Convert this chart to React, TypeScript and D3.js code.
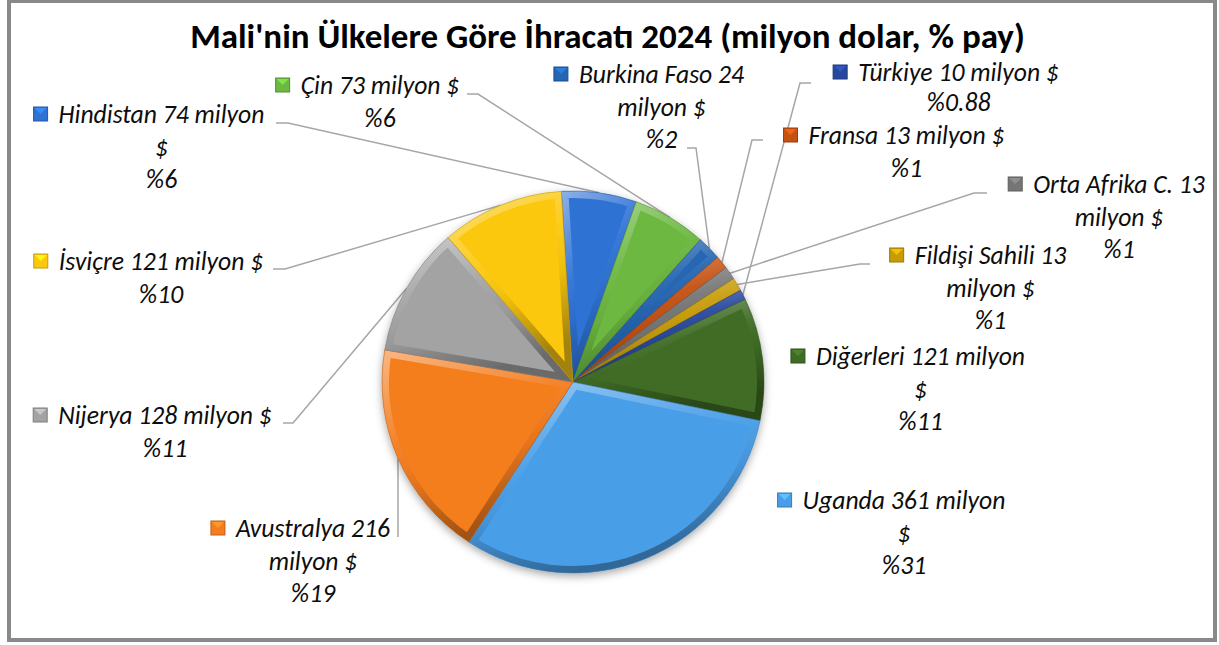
import React, { useEffect, useRef } from "react";
import * as d3 from "d3";

// slices in clockwise order, starting just left of 12 o'clock
const countries = ["Hindistan", "Çin", "Burkina Faso", "Fransa", "Orta Afrika C.", "Fildişi Sahili", "Türkiye", "Diğerleri", "Uganda", "Avustralya", "Nijerya", "İsviçre"];
const values = [74, 73, 24, 13, 13, 13, 10, 121, 361, 216, 128, 121];
const shares = ["%6", "%6", "%2", "%1", "%1", "%1", "%0.88", "%11", "%31", "%19", "%11", "%10"];
const colors = ["#2F72D4", "#6CB840", "#2566B2", "#C55112", "#767676", "#C79C08", "#28489E", "#3F6C25", "#4A9EE8", "#F47D1F", "#A3A3A3", "#FBC810"];
// how each label wraps: 0 = "name v milyon $" / share, 1 = "name v milyon" / "$" / share, 2 = "name v" / "milyon $" / share
const wraps = [1, 0, 2, 0, 2, 2, 0, 1, 1, 2, 0, 0];

const title = "Mali'nin Ülkelere Göre İhracatı 2024 (milyon dolar, % pay)";

// label layout (block centre, first baseline, line gap, leader start + elbow)
const labelPos: { cx: number; y: number; gap?: number; lead: number[][] | null }[] = [
  { cx: 161.5, y: 123, lead: [[276, 123], [288, 123]] },
  { cx: 380, y: 94, lead: [[467, 94], [478, 94]] },
  { cx: 661.5, y: 83, lead: [[687, 148], [696, 148]] },
  { cx: 906.5, y: 144, lead: [[763, 140], [752, 140]] },
  { cx: 1119, y: 193, lead: [[987, 193], [974, 193]] },
  { cx: 990.5, y: 264, lead: [[870, 264], [860, 264]] },
  { cx: 958.5, y: 81, gap: 30, lead: [[811, 83], [800, 83]] },
  { cx: 920.5, y: 365, lead: null },
  { cx: 904, y: 509, lead: null },
  { cx: 313, y: 537, lead: [[398, 537], [398, 537]] },
  { cx: 165, y: 424, lead: [[283, 423], [293, 423]] },
  { cx: 161, y: 270, lead: [[273, 269], [285, 269]] },
];

const W = 1219, H = 645;
const cx = 573, cy = 382, R = 191;
const firstAngle = (-3.5 * Math.PI) / 180;
const FONT = "Carlito, Calibri, 'Open Sans', sans-serif";
const TITLE_W = 835; // width of the title in the original
const LABEL_W = 206; // width of "Hindistan 74 milyon" (a touch under the original)

function linesFor(i: number): string[] {
  const n = countries[i], v = values[i];
  if (wraps[i] === 1) return [`${n} ${v} milyon`, "$", shares[i]];
  if (wraps[i] === 2) return [`${n} ${v}`, "milyon $", shares[i]];
  return [`${n} ${v} milyon $`, shares[i]];
}

export default function App() {
  const ref = useRef<SVGSVGElement>(null);

  useEffect(() => {
    const svg = d3.select(ref.current);
    svg.selectAll("*").remove();

    const defs = svg.append("defs");
    const shadow = defs.append("filter").attr("id", "pieShadow").attr("x", "-20%").attr("y", "-20%").attr("width", "140%").attr("height", "140%");
    shadow.append("feDropShadow").attr("dx", 0).attr("dy", 3).attr("stdDeviation", 4).attr("flood-color", "#000").attr("flood-opacity", 0.35);

    const bevel = defs.append("linearGradient").attr("id", "bevel").attr("x1", 0).attr("y1", 0).attr("x2", 0.35).attr("y2", 1);
    bevel.append("stop").attr("offset", "0%").attr("stop-color", "#fff").attr("stop-opacity", 0.45);
    bevel.append("stop").attr("offset", "45%").attr("stop-color", "#fff").attr("stop-opacity", 0.05);
    bevel.append("stop").attr("offset", "65%").attr("stop-color", "#000").attr("stop-opacity", 0.05);
    bevel.append("stop").attr("offset", "100%").attr("stop-color", "#000").attr("stop-opacity", 0.35);

    // frame
    svg.append("rect").attr("x", 9).attr("y", 1).attr("width", 1206).attr("height", 639)
      .attr("fill", "#fff").attr("stroke", "#898989").attr("stroke-width", 4);

    // title, sized to the original width with whatever font is present
    const tt = svg.append("text").attr("x", 607.5).attr("y", 48).attr("text-anchor", "middle")
      .attr("font-family", FONT).attr("font-weight", "bold").attr("font-size", 28).attr("fill", "#000")
      .text(title);
    const tw = (tt.node() as SVGTextElement).getComputedTextLength();
    if (tw > 0) tt.attr("font-size", (28 * TITLE_W) / tw);

    const pie = d3.pie<number>().sort(null).startAngle(firstAngle).endAngle(firstAngle + 2 * Math.PI);
    const arcs = pie(values);
    const arc = d3.arc<d3.PieArcDatum<number>>().innerRadius(0).outerRadius(R);
    const rim = d3.arc<d3.PieArcDatum<number>>().innerRadius(R).outerRadius(R);

    // leader lines
    const leaders = svg.append("g").attr("fill", "none").attr("stroke", "#A6A6A6").attr("stroke-width", 1.5);
    arcs.forEach((d, i) => {
      const p = labelPos[i];
      if (!p.lead) return;
      const [ex, ey] = rim.centroid(d);
      leaders.append("path").attr("d", d3.line()([p.lead[0] as [number, number], p.lead[1] as [number, number], [cx + ex, cy + ey]]));
    });

    const g = svg.append("g").attr("transform", `translate(${cx},${cy})`).attr("filter", "url(#pieShadow)");
    arcs.forEach((d, i) => {
      const c = colors[i];
      defs.append("clipPath").attr("id", `clip${i}`).append("path").attr("d", arc(d));
      const s = g.append("g");
      s.append("path").attr("d", arc(d)).attr("fill", c);
      s.append("path").attr("d", arc(d)).attr("clip-path", `url(#clip${i})`)
        .attr("fill", "none").attr("stroke", "url(#bevel)").attr("stroke-width", 14).attr("stroke-linejoin", "round");
      s.append("path").attr("d", arc(d)).attr("fill", "none")
        .attr("stroke", d3.color(c)!.darker(0.8).formatHex()).attr("stroke-width", 0.8).attr("stroke-opacity", 0.7);
    });

    // labels
    const lg = svg.append("g").attr("font-family", FONT).attr("font-style", "italic").attr("font-size", 22).attr("fill", "#0D0D0D");
    const probe = lg.append("text").text(`${countries[0]} ${values[0]} milyon`);
    const pw = (probe.node() as SVGTextElement).getComputedTextLength();
    probe.remove();
    const fs = pw > 0 ? (22 * LABEL_W) / pw : 22;
    lg.attr("font-size", fs);

    arcs.forEach((d, i) => {
      const p = labelPos[i];
      const lines = linesFor(i);
      const gap = p.gap ?? 32.5;
      let firstLeft = p.cx;
      lines.forEach((t, k) => {
        const tx = lg.append("text").attr("x", p.cx).attr("y", p.y + k * gap).attr("text-anchor", "middle").text(t);
        if (k === 0) {
          const w = (tx.node() as SVGTextElement).getComputedTextLength();
          firstLeft = p.cx - w / 2;
        }
      });
      const c = d3.color(colors[i])!;
      const kx = firstLeft - 25, ky = p.y - 16;
      lg.append("rect").attr("x", kx).attr("y", ky).attr("width", 14).attr("height", 14)
        .attr("fill", c.formatHex()).attr("stroke", c.darker(0.7).formatHex()).attr("stroke-width", 1);
      lg.append("path").attr("d", `M${kx + 1},${ky + 1}L${kx + 13},${ky + 1}L${kx + 7},${ky + 7}Z`)
        .attr("fill", c.brighter(0.7).formatHex()).attr("opacity", 0.8);
    });
  }, []);

  return (
    <svg ref={ref} width={W} height={H} style={{ position: "absolute", left: 0, top: 0, display: "block" }} />
  );
}
